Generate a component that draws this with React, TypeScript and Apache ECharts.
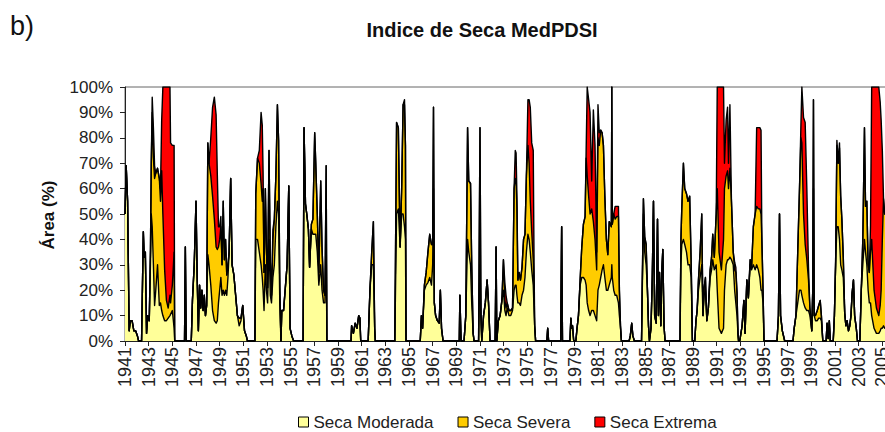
import React, { useEffect, useRef } from "react";
import * as echarts from "echarts";

// Tempo (anos decimais) e percentagens de área em cada categoria de seca (empilhadas)
const anos = [
  1941.00, 1941.10, 1941.22, 1941.35, 1941.45, 1941.60, 1941.75, 1941.90, 1942.05, 1942.15,
  1942.40, 1942.55, 1942.62, 1942.72, 1942.82, 1942.92, 1943.05, 1943.15, 1943.22, 1943.30, 1943.40, 1943.50, 1943.60, 1943.75, 1943.90, 1944.00, 1944.10, 1944.20, 1944.35, 1944.50, 1944.65, 1944.80, 1944.85, 1945.00, 1945.15, 1945.20,
  1946.03, 1946.10, 1946.17,
  1946.60, 1946.70, 1946.85, 1947.00, 1947.10, 1947.20, 1947.30, 1947.40, 1947.50, 1947.60, 1947.70, 1947.80, 1947.90, 1948.00, 1948.10, 1948.25, 1948.40, 1948.55, 1948.70, 1948.80, 1948.90, 1949.00, 1949.10, 1949.20, 1949.30, 1949.40, 1949.50, 1949.60, 1949.70, 1949.80, 1949.93, 1950.05, 1950.20, 1950.35, 1950.50, 1950.65, 1950.80, 1950.95, 1951.10, 1951.25, 1951.35,
  1951.98, 1952.05, 1952.20, 1952.35, 1952.50, 1952.60, 1952.67, 1952.75, 1952.86, 1952.95, 1953.05, 1953.17, 1953.28, 1953.38, 1953.50, 1953.62, 1953.75, 1953.88, 1953.98, 1954.08, 1954.18, 1954.25, 1954.40, 1954.55, 1954.70, 1954.84, 1954.95, 1955.10, 1955.25,
  1956.05, 1956.13, 1956.25, 1956.36, 1956.50, 1956.60, 1956.75, 1956.88, 1957.03, 1957.12, 1957.25, 1957.38, 1957.54, 1957.65, 1957.78, 1957.90, 1958.00, 1958.06,
  1960.10, 1960.15, 1960.30, 1960.45, 1960.60, 1960.75, 1960.85, 1960.92,
  1961.55, 1961.70, 1961.85, 1961.99, 1962.10, 1962.15,
  1963.80, 1963.95, 1964.10, 1964.25, 1964.38, 1964.50, 1964.62, 1964.70, 1964.75,
  1965.95, 1966.05, 1966.15, 1966.30, 1966.45, 1966.60, 1966.75, 1966.90, 1967.00, 1967.07, 1967.14, 1967.25, 1967.40, 1967.55, 1967.65, 1967.75, 1967.88,
  1969.25, 1969.30, 1969.40,
  1969.65, 1969.80, 1969.95, 1970.05, 1970.20, 1970.30, 1970.42, 1970.50,
  1970.88, 1971.00, 1971.08, 1971.15, 1971.30, 1971.45, 1971.60, 1971.72, 1971.85,
  1972.28, 1972.36, 1972.42, 1972.55, 1972.70, 1972.85, 1972.98, 1973.10, 1973.20, 1973.30, 1973.45, 1973.60, 1973.75, 1973.88, 1973.98, 1974.05, 1974.12, 1974.20, 1974.30, 1974.42, 1974.55, 1974.68, 1974.80, 1974.92, 1975.05, 1975.15, 1975.25, 1975.37, 1975.50, 1975.57, 1975.62, 1975.70,
  1976.65, 1976.72, 1976.80,
  1977.82, 1977.90, 1977.97,
  1978.60, 1978.68, 1978.75, 1978.82, 1978.92,
  1979.10, 1979.20, 1979.32, 1979.46, 1979.60, 1979.74, 1979.88, 1979.97, 1980.06, 1980.18, 1980.30, 1980.44, 1980.58, 1980.72, 1980.86, 1980.97, 1981.08, 1981.20, 1981.32, 1981.43, 1981.55, 1981.68, 1981.80, 1981.92, 1982.10, 1982.14, 1982.18, 1982.30, 1982.42, 1982.55, 1982.70, 1982.78, 1982.88, 1982.95,
  1983.60, 1983.70, 1983.82, 1983.92, 1984.05,
  1984.65, 1984.81, 1984.92, 1985.04, 1985.15, 1985.24, 1985.32, 1985.45, 1985.56, 1985.66, 1985.76, 1985.89, 1986.00, 1986.08, 1986.17, 1986.28, 1986.36, 1986.45, 1986.55, 1986.64,
  1987.90, 1987.98, 1988.05, 1988.19, 1988.30, 1988.45, 1988.58, 1988.72, 1988.85, 1988.95,
  1989.15, 1989.25, 1989.35, 1989.46, 1989.60, 1989.74, 1989.84, 1989.94, 1990.05, 1990.17, 1990.30, 1990.45, 1990.57, 1990.67, 1990.80, 1990.96, 1991.05, 1991.20, 1991.40, 1991.58, 1991.66, 1991.80, 1991.92, 1992.00, 1992.12, 1992.25, 1992.40, 1992.52, 1992.62, 1992.72, 1992.80, 1992.85,
  1992.95, 1993.05, 1993.15, 1993.30, 1993.40, 1993.55, 1993.68, 1993.83, 1993.95, 1994.10, 1994.25, 1994.38, 1994.52, 1994.65, 1994.75, 1994.82, 1994.92, 1995.00,
  1996.10, 1996.22, 1996.31, 1996.40, 1996.55, 1996.75,
  1997.45, 1997.55, 1997.70, 1997.85, 1998.00, 1998.12, 1998.20, 1998.34, 1998.48, 1998.62, 1998.76, 1998.88, 1999.04, 1999.12, 1999.18, 1999.24, 1999.35, 1999.50, 1999.62, 1999.75, 1999.85, 1999.97,
  2000.25, 2000.33, 2000.42, 2000.52, 2000.60,
  2000.85, 2000.95, 2001.05, 2001.16, 2001.27, 2001.38, 2001.48, 2001.58, 2001.70, 2001.82, 2001.92, 2002.02, 2002.14, 2002.25, 2002.35, 2002.45, 2002.56, 2002.66, 2002.80, 2002.90,
  2003.10, 2003.22, 2003.35, 2003.49, 2003.58, 2003.69, 2003.80, 2003.90, 2004.00, 2004.10, 2004.30, 2004.50, 2004.70, 2004.82, 2004.90, 2005.00, 2005.10, 2005.20, 2005.40,
];

const moderada = [
  50, 69, 55, 4, 8, 8, 4, 4, 2, 0,
  0, 43, 33, 35, 3, 10, 8, 30, 50, 45, 30, 14, 20, 30, 14, 15, 12, 10, 8, 8, 9, 10, 10, 12, 5, 0,
  0, 37, 0,
  0, 16, 30, 55, 25, 4, 22, 13, 20, 12, 18, 10, 14, 34, 30, 22, 12, 8, 7, 8, 15, 20, 25, 18, 20, 18, 20, 18, 25, 35, 64, 30, 26, 18, 10, 6, 8, 14, 4, 2, 0,
  0, 40, 40, 35, 30, 25, 20, 12, 30, 20, 15, 40, 18, 15, 25, 30, 45, 55, 50, 15, 0, 12, 12, 21, 30, 61, 5, 2, 0,
  0, 84, 54, 50, 44, 29, 44, 42, 42, 42, 35, 22, 30, 20, 15, 15, 40, 0,
  0, 6, 3, 7, 5, 10, 9, 0,
  0, 20, 30, 30, 5, 0,
  0, 50, 52, 37, 50, 50, 45, 40, 0,
  0, 10, 5, 20, 22, 23, 25, 22, 30, 60, 15, 10, 8, 7, 20, 5, 0,
  0, 18, 0,
  0, 10, 40, 35, 30, 15, 3, 0,
  0, 30, 10, 0, 10, 15, 24, 15, 0,
  0, 37, 0, 8, 10, 16, 20, 12, 10, 13, 10, 10, 12, 20, 22, 22, 18, 15, 15, 14, 18, 20, 25, 35, 42, 40, 35, 28, 22, 12, 6, 0,
  0, 5, 0,
  0, 45, 0,
  0, 9, 5, 6, 0,
  0, 5, 10, 22, 25, 25, 24, 22, 15, 12, 10, 12, 12, 10, 8, 20, 22, 25, 28, 30, 25, 20, 20, 22, 25, 30, 25, 20, 18, 18, 15, 10, 5, 0,
  0, 2, 7, 2, 0,
  0, 50, 35, 30, 20, 6, 0, 5, 25, 55, 10, 7, 48, 10, 27, 6, 27, 36, 6, 0,
  0, 30, 38, 40, 38, 35, 30, 30, 25, 0,
  0, 8, 12, 20, 25, 30, 10, 18, 20, 8, 13, 25, 28, 32, 28, 30, 20, 5, 3, 5, 20, 30, 32, 32, 33, 32, 30, 20, 15, 10, 3, 0,
  0, 3, 6, 16, 3, 24, 17, 30, 28, 30, 28, 30, 28, 25, 20, 20, 15, 0,
  0, 10, 50, 10, 4, 0,
  0, 5, 10, 15, 20, 20, 18, 15, 13, 12, 12, 10, 4, 20, 60, 10, 8, 8, 9, 9, 8, 0,
  0, 7, 1, 8, 0,
  0, 10, 30, 45, 45, 40, 30, 28, 25, 11, 6, 8, 4, 6, 10, 19, 24, 10, 5, 0,
  0, 20, 30, 40, 35, 30, 20, 15, 15, 10, 5, 3, 3, 4, 5, 5, 6, 5, 5,
];

const severa = [
  0, 0, 0, 0, 0, 0, 0, 0, 0, 0,
  0, 0, 0, 0, 0, 0, 0, 5, 20, 45, 42, 50, 46, 38, 50, 40, 55, 40, 20, 8, 4, 8, 5, 10, 30, 0,
  0, 0, 0,
  0, 0, 0, 0, 0, 0, 0, 0, 0, 0, 0, 0, 0, 44, 40, 43, 45, 40, 30, 28, 22, 20, 20, 12, 35, 14, 20, 8, 5, 0, 0, 0, 0, 0, 0, 3, 1, 0, 0, 0, 0,
  0, 18, 32, 35, 32, 30, 40, 15, 30, 17, 6, 35, 13, 3, 15, 18, 20, 38, 29, 6, 0, 0, 0, 0, 0, 0, 0, 0, 0,
  0, 0, 0, 0, 0, 0, 2, 6, 40, 28, 15, 5, 33, 17, 5, 3, 29, 0,
  0, 0, 0, 0, 0, 0, 0, 0,
  0, 0, 5, 17, 0, 0,
  0, 36, 32, 0, 10, 43, 48, 37, 0,
  0, 0, 0, 2, 5, 12, 17, 16, 8, 32, 0, 0, 0, 0, 0, 0, 0,
  0, 0, 0,
  0, 0, 44, 28, 32, 15, 0, 0,
  0, 54, 0, 0, 0, 0, 0, 0, 0,
  0, 0, 0, 0, 0, 0, 12, 4, 3, 2, 2, 2, 1, 40, 42, 40, 35, 9, 12, 10, 11, 20, 17, 30, 35, 30, 20, 15, 10, 8, 0, 0,
  0, 0, 0,
  0, 0, 0,
  0, 0, 0, 0, 0,
  0, 0, 0, 2, 12, 21, 25, 50, 50, 45, 40, 40, 35, 30, 20, 60, 55, 58, 54, 47, 32, 20, 14, 25, 20, 70, 21, 30, 30, 31, 34, 10, 0, 0,
  0, 0, 0, 0, 0,
  0, 6, 6, 8, 0, 0, 0, 0, 0, 0, 0, 0, 0, 0, 0, 0, 0, 0, 0, 0,
  0, 10, 14, 30, 22, 23, 25, 27, 5, 0,
  0, 0, 0, 4, 10, 20, 0, 3, 5, 0, 0, 3, 5, 10, 5, 20, 40, 30, 25, 35, 40, 35, 35, 28, 35, 23, 5, 8, 12, 9, 0, 0,
  0, 0, 0, 0, 0, 0, 0, 2, 1, 15, 22, 23, 24, 27, 30, 20, 5, 0,
  0, 0, 0, 0, 0, 0,
  0, 0, 0, 20, 40, 60, 60, 35, 25, 20, 12, 3, 0, 0, 35, 0, 2, 4, 5, 7, 2, 0,
  0, 0, 0, 0, 0,
  0, 0, 0, 32, 25, 36, 27, 20, 8, 0, 0, 0, 0, 0, 0, 0, 0, 0, 0, 0,
  0, 0, 10, 44, 18, 25, 10, 12, 20, 30, 15, 10, 7, 10, 15, 35, 50, 45, 50,
];

const extrema = [
  0, 0, 0, 0, 0, 0, 0, 0, 0, 0,
  0, 0, 0, 0, 0, 0, 0, 0, 0, 6, 12, 5, 0, 0, 0, 5, 20, 50, 72, 84, 87, 82, 63, 55, 42, 0,
  0, 0, 0,
  0, 0, 0, 0, 0, 0, 0, 0, 0, 0, 0, 0, 0, 0, 0, 15, 35, 48, 52, 30, 8, 5, 4, 0, 0, 0, 0, 0, 0, 0, 0, 0, 0, 0, 0, 0, 0, 0, 0, 0, 0,
  0, 0, 0, 5, 28, 30, 6, 0, 0, 0, 0, 0, 0, 0, 4, 0, 0, 0, 0, 0, 0, 0, 0, 0, 0, 0, 0, 0, 0,
  0, 0, 0, 0, 0, 0, 0, 0, 0, 0, 0, 0, 0, 0, 0, 0, 0, 0,
  0, 0, 0, 0, 0, 0, 0, 0,
  0, 0, 0, 0, 0, 0,
  0, 0, 0, 0, 0, 0, 2, 0, 0,
  0, 0, 0, 0, 0, 0, 0, 0, 0, 0, 0, 0, 0, 0, 0, 0, 0,
  0, 0, 0,
  0, 0, 0, 0, 0, 0, 0, 0,
  0, 0, 0, 0, 0, 0, 0, 0, 0,
  0, 0, 0, 0, 0, 0, 0, 7, 5, 0, 0, 0, 0, 0, 11, 12, 4, 0, 0, 0, 0, 0, 0, 0, 18, 25, 37, 35, 43, 10, 0, 0,
  0, 0, 0,
  0, 0, 0,
  0, 0, 0, 0, 0,
  0, 0, 0, 0, 0, 0, 0, 3, 35, 38, 40, 11, 44, 37, 7, 13, 5, 0, 0, 0, 0, 0, 0, 0, 0, 0, 0, 0, 5, 4, 4, 0, 0, 0,
  0, 0, 0, 0, 0,
  0, 0, 0, 0, 0, 0, 0, 0, 0, 0, 0, 0, 0, 0, 0, 0, 0, 0, 0, 0,
  0, 0, 0, 0, 0, 0, 0, 0, 0, 0,
  0, 0, 0, 0, 0, 0, 0, 0, 0, 0, 0, 0, 0, 0, 0, 0, 40, 65, 72, 60, 10, 22, 25, 10, 25, 0, 0, 3, 2, 0, 0, 0,
  0, 0, 0, 0, 0, 0, 0, 0, 0, 0, 0, 31, 32, 32, 33, 0, 0, 0,
  0, 0, 0, 0, 0, 0,
  0, 0, 0, 0, 0, 5, 22, 38, 48, 28, 5, 0, 0, 0, 0, 0, 0, 0, 0, 0, 0, 0,
  0, 0, 0, 0, 0,
  0, 0, 0, 2, 0, 2, 0, 0, 0, 0, 0, 0, 0, 0, 0, 0, 0, 0, 0, 0,
  0, 0, 0, 0, 0, 0, 0, 0, 10, 60, 80, 87, 90, 80, 67, 35, 0, 0, 0,
];

const nomesSeries = ["Seca Moderada", "Seca Severa", "Seca Extrema"];
const coresSeries = ["#FFFF99", "#FFCC00", "#FF0000"];
const anoInicial = 1941;
const anoFinalEixo = 2007;

export default function App() {
  const ref = useRef<HTMLDivElement>(null);

  useEffect(() => {
    if (!ref.current) return;
    const chart = echarts.init(ref.current, undefined, { renderer: "svg" });
    const font = "'Liberation Sans', Arial, sans-serif";

    // Empilhamento: limites acumulados de cada categoria
    const acumulado = [moderada, severa, extrema].reduce<number[][]>((acc, serie, k) => {
      const anterior = k === 0 ? null : acc[k - 1];
      acc.push(serie.map((v, i) => (anterior ? anterior[i] : 0) + (v ?? 0)));
      return acc;
    }, []);
    const pares = (v: number[]) => anos.map((a, i) => [a - anoInicial, v[i] ?? 0]);

    // desenhar de cima (total) para baixo, para que cada camada cubra a anterior
    const ordem = [2, 1, 0];

    chart.setOption({
      animation: false,
      textStyle: { fontFamily: font },
      grid: {
        left: 125,
        top: 87,
        right: -21,
        bottom: 91,
        show: true,
        borderColor: "#666",
        borderWidth: 1,
        backgroundColor: "transparent",
        containLabel: false,
        outerBoundsMode: "none",
      },
      xAxis: {
        type: "value",
        min: 0,
        max: anoFinalEixo - anoInicial,
        interval: 2,
        splitLine: { show: false },
        axisLine: { show: true, lineStyle: { color: "#222", width: 1 } },
        axisTick: { show: true, length: 5, lineStyle: { color: "#222" } },
        axisLabel: {
          rotate: 90,
          margin: 6,
          fontSize: 18,
          color: "#222",
          fontFamily: font,
          hideOverlap: false,
          formatter: (v: number) => String(anoInicial + v),
        },
      },
      yAxis: {
        type: "value",
        min: 0,
        max: 100,
        interval: 10,
        splitLine: { show: false },
        axisLine: { show: true, lineStyle: { color: "#222", width: 1 } },
        axisTick: { show: true, length: 5, lineStyle: { color: "#222" } },
        axisLabel: {
          margin: 12,
          fontSize: 17,
          color: "#222",
          fontFamily: font,
          formatter: "{value}%",
        },
      },
      legend: {
        left: 298,
        top: 413,
        padding: 0,
        icon: "rect",
        itemWidth: 10,
        itemHeight: 10,
        itemGap: 24,
        textStyle: { fontSize: 17, color: "#222", fontFamily: font, lineHeight: 18 },
        data: nomesSeries.map((n, i) => ({
          name: n,
          itemStyle: { color: coresSeries[i], borderColor: "#000", borderWidth: 1 },
        })),
      },
      graphic: [
        {
          type: "text",
          left: 10,
          top: 12,
          style: { text: "b)", font: `27px ${font}`, fill: "#111" },
        },
        {
          type: "text",
          x: 482,
          y: 30,
          style: {
            text: "Indice de Seca MedPDSI",
            font: `bold 20px ${font}`,
            fill: "#111",
            textAlign: "center",
            textVerticalAlign: "middle",
          },
        },
        {
          type: "text",
          x: 48,
          y: 215,
          rotation: Math.PI / 2,
          style: {
            text: "Área (%)",
            font: `bold 17px ${font}`,
            fill: "#111",
            textAlign: "center",
            textVerticalAlign: "middle",
          },
        },
      ],
      series: ordem.map((k) => ({
        name: nomesSeries[k],
        type: "line",
        data: pares(acumulado[k]),
        symbol: "none",
        showSymbol: false,
        color: coresSeries[k],
        itemStyle: { color: coresSeries[k] },
        lineStyle: { color: "#000", width: 1.4, join: "round" },
        areaStyle: { color: coresSeries[k], opacity: 1, origin: "start" },
        emphasis: { disabled: true },
      })),
    });

    return () => chart.dispose();
  }, []);

  return (
    <div
      ref={ref}
      style={{ position: "fixed", left: 0, top: 0, width: 885, height: 432, background: "#fff" }}
    />
  );
}
